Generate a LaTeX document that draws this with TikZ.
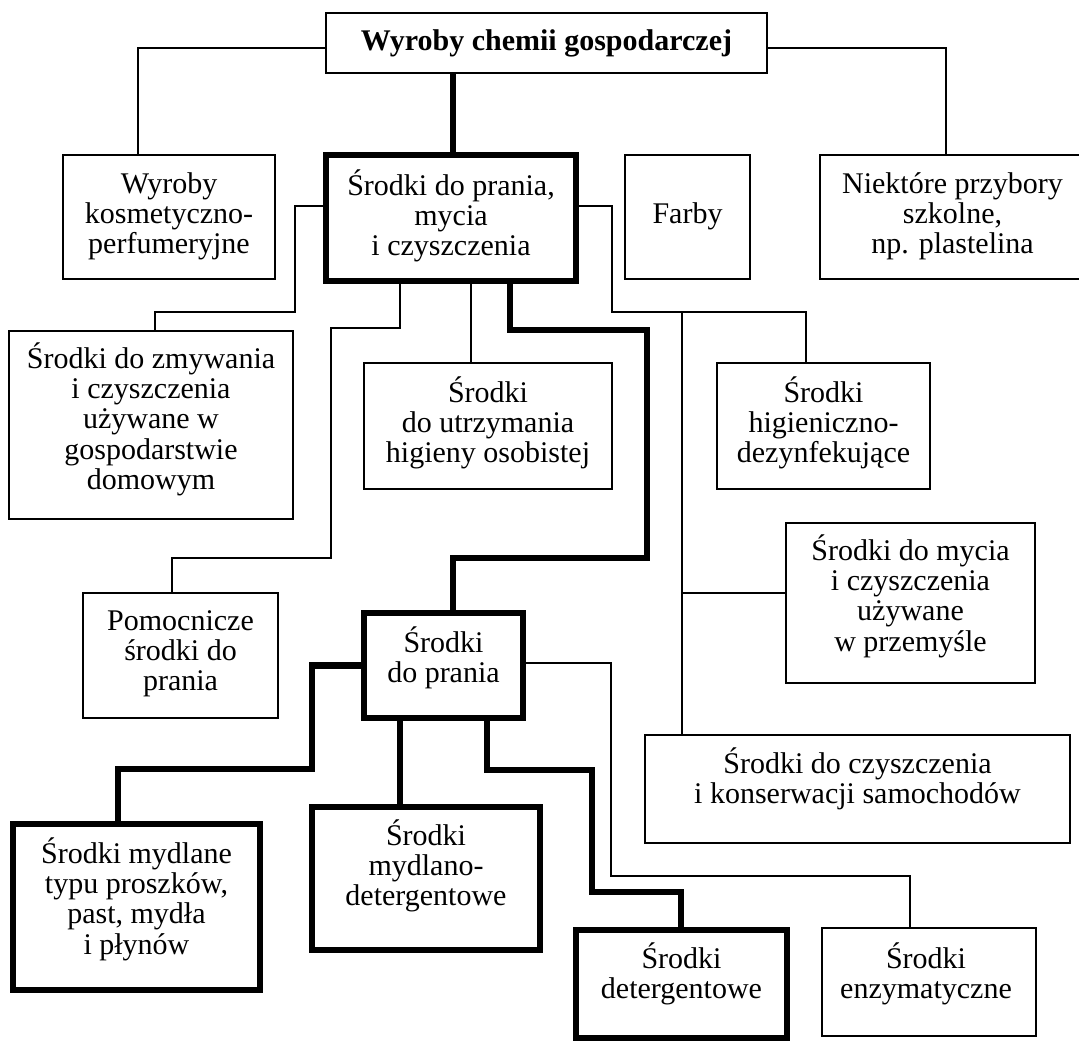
\documentclass[tikz,border=0pt]{standalone}
\usepackage{fontspec}
\setmainfont{Liberation Serif}
\usetikzlibrary{fit,calc}
\newcommand\fl{\rule{0pt}{14pt}}
\newcommand\nodefont{\fontsize{15}{15.1}\selectfont\lineskiplimit=-20pt\relax}
\begin{document}
\begin{tikzpicture}[x=0.5pt,y=-0.5pt,
  box/.style={draw, line width=1pt, inner sep=0pt, outer sep=0pt},
  tbox/.style={draw, line width=3.3pt, inner sep=0pt, outer sep=0pt},
  txt/.style={align=center, inner sep=0pt, anchor=north, font=\nodefont},
  thin/.style={line width=1pt},
  thk/.style={line width=3.3pt}]
\useasboundingbox[fill=white] (0,0) rectangle (1079,1042);

% boxes
\node[box,  fit={(326,13) (767,73)}]    (top) {};
\node[box,  fit={(63,155) (275,279)}]   (kos) {};
\node[tbox, fit={(326,155) (576,281)}]  (myc) {};
\node[box,  fit={(625,155) (750,279)}]  (far) {};
\node[box,  fit={(820,155) (1085,279)}] (nie) {};
\node[box,  fit={(9,331) (293,519)}]    (zmy) {};
\node[box,  fit={(364,363) (612,489)}]  (utr) {};
\node[box,  fit={(717,363) (930,489)}]  (hig) {};
\node[box,  fit={(786,523) (1035,683)}] (prz) {};
\node[box,  fit={(83,593) (278,718)}]   (pom) {};
\node[tbox, fit={(364,613) (523,718)}]  (pra) {};
\node[box,  fit={(645,735) (1070,843)}] (sam) {};
\node[tbox, fit={(13,824) (260,990)}]   (myd) {};
\node[tbox, fit={(312,807) (540,950)}]  (mdo) {};
\node[tbox, fit={(576,930) (787,1038)}] (det) {};
\node[box,  fit={(822,928) (1036,1036)}] (enz) {};

% texts
\node[txt] (top-t) at ($(top.north)+(0,9)$)  {\fl\textbf{Wyroby chemii gospodarczej}};
\node[txt] (kos-t) at ($(kos.north)+(0,10)$) {\fl Wyroby\\kosmetyczno-\\perfumeryjne};
\node[txt] (myc-t) at ($(myc.north)+(0,12)$) {\fl Środki do prania,\\mycia\\i czyszczenia};
\node[txt] (far-t) at ($(far.north)+(0,40)$) {\fl Farby};
\node[txt] (nie-t) at ($(nie.north)+(0,10)$) {\fl Niektóre przybory\\szkolne,\\np. plastelina};
\node[txt] (zmy-t) at ($(zmy.north)+(0,9)$)  {\fl Środki do zmywania\\i czyszczenia\\używane w\\gospodarstwie\\domowym};
\node[txt] (utr-t) at ($(utr.north)+(0,11)$) {\fl Środki\\do utrzymania\\higieny osobistej};
\node[txt] (hig-t) at ($(hig.north)+(0,11)$) {\fl Środki\\higieniczno-\\dezynfekujące};
\node[txt] (prz-t) at ($(prz.north)+(0,9)$)  {\fl Środki do mycia\\i czyszczenia\\używane\\w przemyśle};
\node[txt] (pom-t) at ($(pom.north)+(0,9)$)  {\fl Pomocnicze\\środki do\\prania};
\node[txt] (pra-t) at ($(pra.north)+(0,11)$) {\fl Środki\\do prania};
\node[txt] (sam-t) at ($(sam.north)+(0,10)$) {\fl Środki do czyszczenia\\i konserwacji samochodów};
\node[txt] (myd-t) at ($(myd.north)+(0,11)$) {\fl Środki mydlane\\typu proszków,\\past, mydła\\i płynów};
\node[txt] (mdo-t) at ($(mdo.north)+(0,10)$) {\fl Środki\\mydlano-\\detergentowe};
\node[txt] (det-t) at ($(det.north)+(0,10)$) {\fl Środki\\detergentowe};
\node[txt] (enz-t) at ($(enz.north)+(-3,12)$) {\fl Środki\\enzymatyczne};

% connectors from the top box
\draw[thin] ($(top.west)+(0,5)$) -| ($(kos.north)+(-31,0)$);
\draw[thin] ($(top.east)+(0,5)$) -| ($(nie.north west)+(126,0)$);
\draw[thk]  ($(top.south west)+(127,0)$) -- ($(myc.north west)+(127,0)$);
\draw[thin] ($(far.north west)+(57,0)$ |- top.south) -- ($(far.north west)+(57,0)$);

% connectors from "Srodki do prania, mycia i czyszczenia"
\draw[thin] ($(myc.west)+(0,-12)$) -- ++(-31,0) |- ($(zmy.north west)+(146,-19)$) -- ($(zmy.north west)+(146,0)$);
\draw[thin] ($(myc.south west)+(74,0)$) -- ++(0,47) -- ++(-69,0) |- ($(pom.north west)+(89,-35)$) -- ($(pom.north west)+(89,0)$);
\draw[thin] ($(myc.south west)+(145,0)$) -- ($(utr.north west)+(107,0)$);
\draw[thk]  ($(myc.south west)+(184,0)$) -- ++(0,49) -- ++(137,0) |- ($(pra.north west)+(89,-55)$) -- ($(pra.north west)+(89,0)$);
\draw[thin] ($(myc.east)+(0,-12)$) -- ++(36,0) |- ($(hig.north west)+(89,-51)$) -- ($(hig.north west)+(89,0)$);
\draw[thin] ($(sam.north west)+(37,-423)$) -- ($(sam.north west)+(37,0)$);
\draw[thin] ($(prz.west)+(0,-10)$) -- ++(-104,0);

% connectors from "Srodki do prania"
\draw[thin] ($(pra.east)+(0,-3)$) -- ++(88,0) |- ($(enz.north west)+(88,-52)$) -- ($(enz.north west)+(88,0)$);
\draw[thk]  (pra.west) -- ++(-52,0) |- ($(myd.north west)+(105,-55)$) -- ($(myd.north west)+(105,0)$);
\draw[thk]  ($(pra.south west)+(36,0)$) -- ($(mdo.north west)+(88,0)$);
\draw[thk]  ($(pra.south west)+(123,0)$) -- ++(0,52) -- ++(105,0) |- ($(det.north west)+(105,-38)$) -- ($(det.north west)+(105,0)$);
\end{tikzpicture}
\end{document}
